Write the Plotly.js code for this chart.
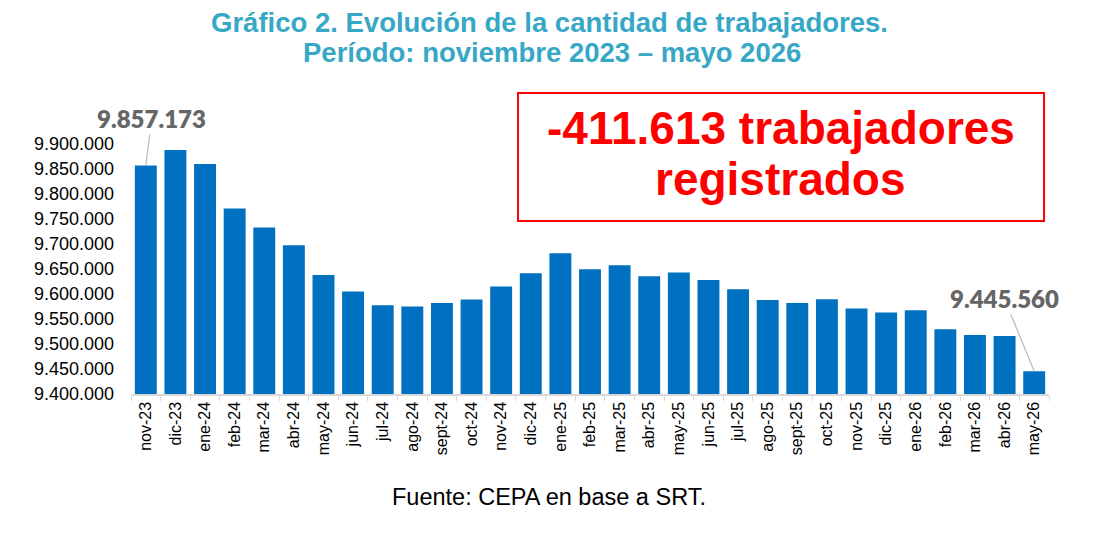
<!DOCTYPE html>
<html>
<head>
<meta charset="utf-8">
<script src="https://cdn.plot.ly/plotly-3.0.1.min.js"></script>
<style>
  html, body { margin: 0; padding: 0; background: #fff; }
  #chart { width: 1104px; height: 547px; }
</style>
</head>
<body>
<div id="chart"></div>
<script>
// Trabajadores registrados (SRT), nov-23 .. may-26
const months = [
  'nov-23', 'dic-23', 'ene-24', 'feb-24', 'mar-24', 'abr-24', 'may-24', 'jun-24',
  'jul-24', 'ago-24', 'sept-24', 'oct-24', 'nov-24', 'dic-24', 'ene-25', 'feb-25',
  'mar-25', 'abr-25', 'may-25', 'jun-25', 'jul-25', 'ago-25', 'sept-25', 'oct-25',
  'nov-25', 'dic-25', 'ene-26', 'feb-26', 'mar-26', 'abr-26', 'may-26'
];
const workers = [
  9857173, 9888000, 9860000, 9771000, 9733000, 9697600, 9638000, 9605000,
  9577500, 9575000, 9582000, 9589000, 9615000, 9641600, 9681600, 9649600,
  9657600, 9635600, 9643000, 9628000, 9609500, 9588000, 9582000, 9589600,
  9570800, 9562800, 9567500, 9529500, 9518000, 9516000, 9445560
];
const yTicks = [9400000, 9450000, 9500000, 9550000, 9600000, 9650000,
  9700000, 9750000, 9800000, 9850000, 9900000];

const titleLines = [
  'Gráfico 2. Evolución de la cantidad de trabajadores.',
  'Período: noviembre 2023 – mayo 2026'
];
const boxLines = ['-411.613 trabajadores', 'registrados'];
const source = 'Fuente: CEPA en base a SRT.';

const BLUE = '#0070C0';
const TEAL = '#36A8C6';
const RED = '#FF0000';
const ARIAL = 'Liberation Sans, Arial, sans-serif';

// thousands with dots, the way the source labels them
const fmt = v => Math.round(v).toString().replace(/\B(?=(\d{3})+(?!\d))/g, '.');

const first = 0, last = months.length - 1;

const traces = [{
  type: 'bar',
  x: months,
  y: workers,
  marker: { color: BLUE, line: { width: 0 } },
  hoverinfo: 'skip',
  showlegend: false
}];

const valueLabel = (i, ax, ay) => ({
  x: months[i], y: workers[i], xref: 'x', yref: 'y',
  text: fmt(workers[i]),
  showarrow: true, arrowhead: 0, arrowwidth: 1.3, arrowcolor: '#BFBFBF',
  ax, ay, standoff: 0,
  font: { family: 'Lato, Calibri, sans-serif', size: 24, color: '#666666', weight: 800 }
});

const paperText = (text, x, y, size, color, bold) => ({
  xref: 'paper', yref: 'paper', x, y, xanchor: 'center', yanchor: 'middle',
  text: bold ? '<b>' + text + '</b>' : text, showarrow: false,
  font: { family: ARIAL, size, color }
});

const layout = {
  width: 1104, height: 547, autosize: false,
  paper_bgcolor: '#ffffff', plot_bgcolor: '#ffffff',
  margin: { l: 131, r: 55, t: 144, b: 153 },
  separators: ',.',
  bargap: 0.26,
  font: { family: ARIAL, color: '#000000' },
  xaxis: {
    type: 'category', automargin: false,
    // fixed so the value labels don't widen the autorange
    range: [-0.5, months.length - 0.5],
    tickangle: -90,
    tickfont: { family: ARIAL, size: 16, color: '#000000' },
    showline: true, linecolor: '#D9D9D9', linewidth: 1.5,
    ticks: 'outside', tickson: 'boundaries', ticklen: 5, tickcolor: '#D9D9D9',
    showgrid: false, zeroline: false, fixedrange: true
  },
  yaxis: {
    range: [9400000, 9900000], automargin: false,
    tickvals: yTicks,
    tickformat: ',d',
    tickfont: { family: ARIAL, size: 18, color: '#000000' },
    ticklabelstandoff: 16,
    showgrid: false, zeroline: false, showline: false, fixedrange: true
  },
  shapes: [{
    type: 'rect', xref: 'paper', yref: 'paper',
    x0: 0.4216, x1: 0.9946, y0: 0.692, y1: 1.204,
    line: { color: RED, width: 2 }, fillcolor: 'rgba(0,0,0,0)'
  }],
  annotations: [
    paperText(titleLines[0], 0.456, 1.486, 27.5, TEAL, true),
    paperText(titleLines[1], 0.459, 1.366, 27.5, TEAL, true),
    paperText(boxLines[0], 0.708, 1.064, 46, RED, true),
    paperText(boxLines[1], 0.708, 0.86, 46, RED, true),
    paperText(source, 0.455, -0.412, 23.5, '#000000', false),
    valueLabel(first, 6, -47),
    valueLabel(last, -30, -73)
  ]
};

Plotly.newPlot('chart', traces, layout, { displayModeBar: false, staticPlot: true });
</script>
</body>
</html>
